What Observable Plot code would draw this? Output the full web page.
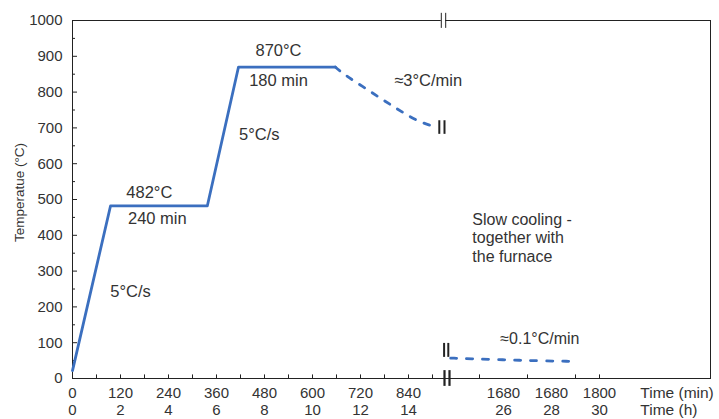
<!DOCTYPE html>
<html><head><meta charset="utf-8">
<script src="https://cdn.jsdelivr.net/npm/d3@7"></script>
<script src="https://cdn.jsdelivr.net/npm/@observablehq/plot@0.6"></script>
<style>body{margin:0;background:#fff} svg{display:block}</style>
</head><body><div id="chart"></div>
<script>
// ---- data ----
const heatTime = [0, 95, 337, 415, 657];
const heatTemp = [22, 482, 482, 870, 870];
const cool1Time = [657, 665, 690, 725, 760, 795, 830, 870, 913];
const cool1Temp = [870, 862, 841, 816, 790, 765, 740, 715, 701];
const cool2Time = [1428, 1480, 1540, 1600, 1660, 1728];
const cool2Temp = [57, 55, 53, 51, 49, 48];

// axis (broken time axis: left part 0–937 min, right part from 1420 min)
const xDomain = [0, 937.5, 1420, 2077.5];
const xLabelVals = [0, 120, 240, 360, 480, 600, 720, 840, 1560, 1680, 1800];
const minLabels = ["0", "120", "240", "360", "480", "600", "720", "840", "1680", "1680", "1800"];
const hourLabels = ["0", "2", "4", "6", "8", "10", "12", "14", "26", "28", "30"];
const xMinorTicks = [60, 120, 180, 240, 300, 360, 420, 480, 540, 600, 660, 720, 780, 840, 900, 1500, 1620, 1740, 1800];
const yTicks = [0, 100, 200, 300, 400, 500, 600, 700, 800, 900, 1000];
const yMinor = [50, 150, 250, 350, 450, 550, 650, 750, 850, 950];
const xTitleMin = "Time (min)";
const xTitleHour = "Time (h)";
const axisTitleX = 1902;
const yTitle = "Temperatue (°C)";

// annotations
const annoText = ["482°C", "240 min", "870°C", "180 min", "5°C/s", "5°C/s", "≈3°C/min"];
const annoX = [192, 212, 515, 515, 467, 145, 889];
const annoY = [520, 447, 916, 832, 682, 243, 832];
const noteLeft = ["≈0.1°C/min", "Slow cooling -\ntogether with\nthe furnace"];
const noteX = [1552, 1482];
const noteY = [114, 394];

// break marks
const topBreakX = [922, 933];
const bottomBreakX = [930, 1425];
const upperCurveBreakX = [917, 930];
const lowerCurveBreakX = [929, 1422];

const blue = "#3b6fbf";
const ink = "#333";
const font = "Liberation Sans, Arial, sans-serif";

const heat = heatTime.map((t, i) => ({t, v: heatTemp[i]}));
const cool1 = cool1Time.map((t, i) => ({t, v: cool1Temp[i]}));
const cool2 = cool2Time.map((t, i) => ({t, v: cool2Temp[i]}));
const annos = annoText.map((s, i) => ({s, x: annoX[i], y: annoY[i]}));
const notes = noteLeft.map((s, i) => ({s, x: noteX[i], y: noteY[i]}));
const xLabs = xLabelVals.map((x, i) => ({x, m: minLabels[i], h: hourLabels[i]}));

const chart = Plot.plot({
  width: 719,
  height: 419,
  marginLeft: 72,
  marginRight: 9,
  marginTop: 20,
  marginBottom: 41,
  style: {fontFamily: font, color: ink, background: "#fff"},
  x: {type: "linear", domain: xDomain, range: [72, 447, 447, 710], axis: null},
  y: {domain: [0, 1000], axis: null},
  marks: [
    Plot.frame({stroke: "#222", strokeWidth: 1}),
    // top break gap
    Plot.ruleY([1000], {x1: topBreakX[0], x2: topBreakX[1], stroke: "#fff", strokeWidth: 4}),
    Plot.ruleX(topBreakX, {x: d => d, y1: 978, y2: 1020, stroke: "#222", strokeWidth: 1}),
    // y ticks
    Plot.ruleY(yTicks.slice(1, -1), {y: d => d, x1: 0, x2: 12.5, stroke: "#222"}),
    Plot.ruleY(yMinor, {y: d => d, x1: 0, x2: 7.5, stroke: "#222"}),
    // x ticks
    Plot.ruleX(xMinorTicks, {x: d => d, y1: 0, y2: 10, stroke: "#222"}),
    // bottom break
    Plot.ruleX(bottomBreakX, {x: d => d, y1: -22, y2: 22, stroke: "#222", strokeWidth: 2.2}),
    // labels
    Plot.text(yTicks, {x: 0, y: d => d, text: d => String(d), textAnchor: "end", dx: -10, fontSize: 15, fill: ink}),
    Plot.text(xLabs, {x: "x", y: 0, text: "m", dy: 15, fontSize: 15, fill: ink, lineAnchor: "middle"}),
    Plot.text(xLabs, {x: "x", y: 0, text: "h", dy: 32, fontSize: 15, fill: ink, lineAnchor: "middle"}),
    Plot.text([xTitleMin], {x: axisTitleX, y: 0, text: d => d, dy: 15, textAnchor: "start", fontSize: 15.5, fill: ink}),
    Plot.text([xTitleHour], {x: axisTitleX, y: 0, text: d => d, dy: 32, textAnchor: "start", fontSize: 15.5, fill: ink}),
    Plot.text([yTitle], {frameAnchor: "left", text: d => d, rotate: -90, textAnchor: "middle", dx: -53, dy: -7, fontSize: 13.5, fill: ink}),
    // curves
    Plot.line(heat, {x: "t", y: "v", stroke: blue, strokeWidth: 2.8}),
    Plot.line(cool1, {x: "t", y: "v", stroke: blue, strokeWidth: 2.8, strokeDasharray: "6,9", curve: "basis"}),
    Plot.line(cool2, {x: "t", y: "v", stroke: blue, strokeWidth: 2.8, strokeDasharray: "6,10", curve: "basis"}),
    Plot.ruleX(upperCurveBreakX, {x: d => d, y1: 682, y2: 720, stroke: "#222", strokeWidth: 2}),
    Plot.ruleX(lowerCurveBreakX, {x: d => d, y1: 59, y2: 98, stroke: "#222", strokeWidth: 2}),
    // annotations
    Plot.text(annos, {x: "x", y: "y", text: "s", fontSize: 16.5, fill: ink}),
    Plot.text(notes, {x: "x", y: "y", text: "s", textAnchor: "start", fontSize: 16, lineHeight: 1.15, fill: ink})
  ]
});
document.getElementById("chart").appendChild(chart);
</script>
</body></html>
